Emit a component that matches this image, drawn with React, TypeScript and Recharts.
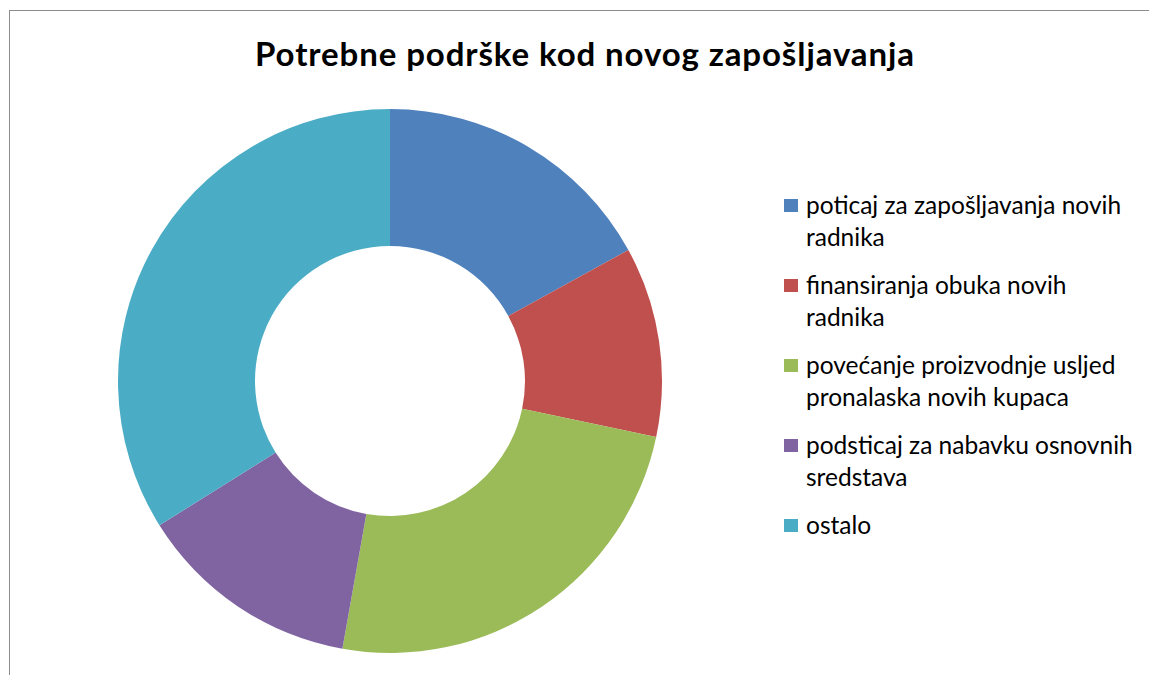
import { Legend, Pie, PieChart } from 'recharts'

// Survey answers in % (clockwise from 12 o'clock)
const CATEGORIES = [
  'poticaj za zapošljavanja novih radnika',
  'finansiranja obuka novih radnika',
  'povećanje proizvodnje usljed pronalaska novih kupaca',
  'podsticaj za nabavku osnovnih sredstava',
  'ostalo',
]
const SHARES = [17.0, 11.3, 24.5, 13.3, 33.9]

// Office 2007 default palette
const COLORS = ['#4F81BD', '#C0504D', '#9BBB59', '#8064A2', '#4BACC6']

const TITLE = 'Potrebne podrške kod novog zapošljavanja'
const FONT = 'Lato, "Open Sans", sans-serif'

const rows = CATEGORIES.map((name, i) => ({
  name,
  value: SHARES[i],
  fill: COLORS[i],
}))

function DonutLegend() {
  return (
    <div style={{ fontFamily: FONT, fontSize: 24.5, lineHeight: '32px', color: '#000', textAlign: 'left' }}>
      {rows.map((r) => (
        <div key={r.name} style={{ display: 'flex', marginBottom: 16 }}>
          <span
            style={{
              width: 14,
              height: 13,
              background: r.fill,
              marginTop: 10,
              marginRight: 8,
              flex: 'none',
            }}
          />
          <span style={{ width: 335 }}>{r.name}</span>
        </div>
      ))}
    </div>
  )
}

export default function App() {
  return (
    <>
      {/* the chart frame runs past the window on the right and bottom */}
      <style>{'html, body { overflow: hidden; }'}</style>
      <div
        style={{
          position: 'fixed',
          left: 9,
          top: 10,
          width: 1200,
          height: 700,
          borderTop: '1px solid #8c8c8c',
          borderLeft: '1px solid #8c8c8c',
          background: '#fff',
          overflow: 'hidden',
        }}
      >
        <div
          style={{
            position: 'absolute',
            top: 22,
            left: 0,
            width: 1150,
            textAlign: 'center',
            fontFamily: FONT,
            fontWeight: 700,
            fontSize: 33,
            letterSpacing: 0.9,
            color: '#000',
            whiteSpace: 'nowrap',
          }}
        >
          {TITLE}
        </div>
        <PieChart width={1139} height={664} margin={{ top: 0, right: 0, bottom: 0, left: 0 }}>
          <Pie
            data={rows}
            dataKey="value"
            nameKey="name"
            cx={380}
            cy={370}
            innerRadius={135}
            outerRadius={272}
            startAngle={90}
            endAngle={-270}
            stroke="none"
            isAnimationActive={false}
          />
          <Legend
            layout="vertical"
            content={() => <DonutLegend />}
            wrapperStyle={{ left: 774, top: 178, width: 362 }}
          />
        </PieChart>
      </div>
    </>
  )
}
